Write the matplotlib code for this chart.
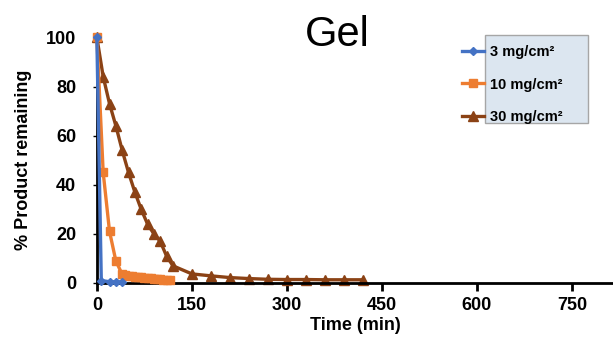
import matplotlib
matplotlib.use("Agg")
import matplotlib.pyplot as plt
from matplotlib.patches import Rectangle

plt.rcParams['font.family'] = ['Liberation Sans', 'DejaVu Sans']

# 3 mg/cm2
t3 = [0, 7, 20, 30, 40]
y3 = [100, 1.0, 0.5, 0.5, 0.4]

# 10 mg/cm2
t10 = [0, 10, 20, 30, 40, 45, 50, 55, 60, 65, 70, 75, 80, 85, 90, 95, 100, 105, 110, 115]
y10 = [100, 45, 21, 9, 3.5, 3.2, 3.0, 2.8, 2.6, 2.4, 2.3, 2.1, 2.0, 1.9, 1.7, 1.6, 1.5, 1.4, 1.3, 1.2]

# 30 mg/cm2
t30 = [0, 10, 20, 30, 40, 50, 60, 70, 80, 90, 100, 110, 120, 150, 180, 210, 240,
       270, 300, 330, 360, 390, 420]
y30 = [100, 84, 73, 64, 54, 45, 37, 30, 24, 20, 17, 11, 7, 3.7, 2.9, 2.2, 1.8,
       1.5, 1.4, 1.4, 1.3, 1.3, 1.3]

labels = ['3 mg/cm²', '10 mg/cm²', '30 mg/cm²']
xticks = [0, 150, 300, 450, 600, 750]
yticks = [0, 20, 40, 60, 80, 100]

fig = plt.figure(figsize=(6.13, 3.43), dpi=100)
ax = fig.add_axes([0.158, 0.175, 0.842, 0.716])

ax.plot(t3, y3, color='#4472C4', marker='D', markersize=4, lw=2.4, label=labels[0], clip_on=False, zorder=4)
ax.plot(t10, y10, color='#ED7D31', marker='s', markersize=5.5, lw=2.4, label=labels[1], clip_on=False, zorder=3)
ax.plot(t30, y30, color='#8B4215', marker='^', markersize=6.5, lw=2.4, label=labels[2], clip_on=False, zorder=2)

ax.set_xlim(0, 815)
ax.set_ylim(0, 100)
ax.set_xticks(xticks)
ax.set_yticks(yticks)
ax.spines['top'].set_visible(False)
ax.spines['right'].set_visible(False)
ax.spines['left'].set_linewidth(2)
ax.spines['bottom'].set_linewidth(2)
ax.tick_params(axis='x', length=6, width=2, labelsize=13, pad=4)
ax.tick_params(axis='y', length=3, width=1, labelsize=13, pad=12)
for lab in ax.get_xticklabels() + ax.get_yticklabels():
    lab.set_fontweight('bold')

ax.set_xlabel('Time (min)', fontsize=13, fontweight='bold', labelpad=2)
ax.set_ylabel('% Product remaining', fontsize=13, fontweight='bold', labelpad=10)

fig.text(0.55, 0.955, 'Gel', fontsize=30, ha='center', va='top')

# legend box sits to the right of the handles
ax.add_patch(Rectangle((485 / 613, 1 - 123 / 343), 103 / 613, 88 / 343,
                       transform=fig.transFigure, facecolor='#DCE6F0',
                       edgecolor='#A6A6A6', lw=1, zorder=1, clip_on=False))
leg = ax.legend(loc='upper left', bbox_to_anchor=(462 / 613, 1 - 45 / 343),
                bbox_transform=fig.transFigure, frameon=False,
                prop={'weight': 'bold', 'size': 10.5}, handlelength=1.5,
                handletextpad=0.45, labelspacing=1.27, borderaxespad=0,
                borderpad=0)
leg.set_zorder(6)

fig.savefig('out.png', dpi=100)
